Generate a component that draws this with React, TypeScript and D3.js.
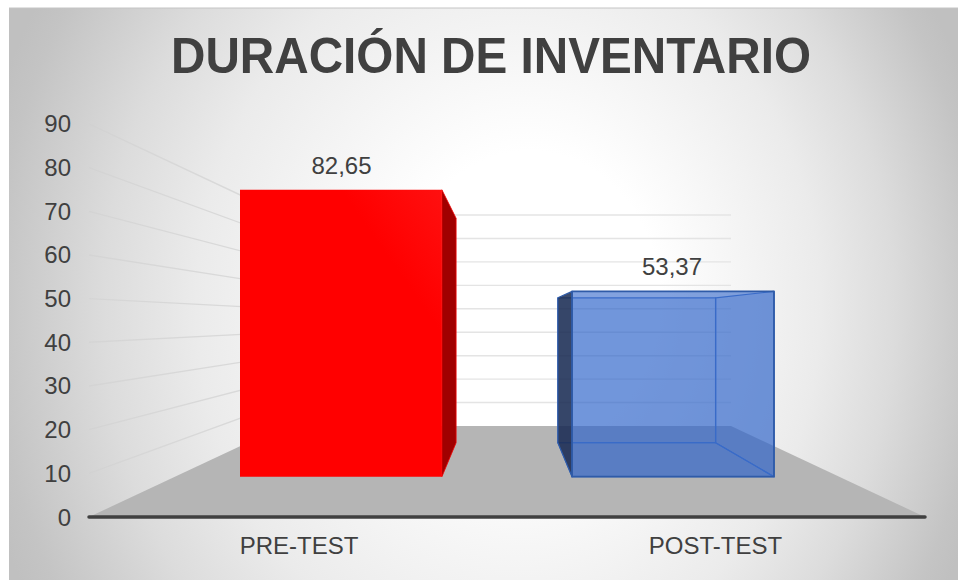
import React from "react";
import * as d3 from "d3";

const categories = ["PRE-TEST", "POST-TEST"];
const values = [82.65, 53.37];
const valueLabels = ["82,65", "53,37"];
const yTicks = [0, 10, 20, 30, 40, 50, 60, 70, 80, 90];
const titleText = "DURACIÓN DE INVENTARIO";

const W = 958, H = 580;
const font = "'Liberation Sans', Arial, sans-serif";
const textColor = "#404040";

// Depth projection: t = 0 on the front edge, t = 1 on the back wall
const baseY = d3.scaleLinear().domain([0, 1]).range([517, 426]);
const unitPx = d3.scaleLinear().domain([0, 1]).range([4.367, 2.344]);
const leftX = d3.scaleLinear().domain([0, 1]).range([89, 283]);
const rightX = d3.scaleLinear().domain([0, 1]).range([925, 731]);
const band = d3.scaleBand<string>().domain(categories).range([0, 1]).paddingInner(0.392).paddingOuter(0.196);
const T_FRONT = 0.443, T_BACK = 0.817;

function project(u: number, v: number, t: number): [number, number] {
  const x = d3.interpolateNumber(leftX(t), rightX(t))(u);
  return [x, baseY(t) - unitPx(t) * v];
}
const poly = (pts: [number, number][]) => pts.map((p) => p.map((n) => n.toFixed(1)).join(",")).join(" ");

export default function App() {
  return (
    <svg width={W} height={H} viewBox={`0 0 ${W} ${H}`} style={{ position: "fixed", left: 0, top: 0, display: "block" }}>
      <defs>
        <radialGradient id="bg" gradientUnits="userSpaceOnUse" cx={0} cy={0} r={1} fx={0.118} fy={-0.02}
          gradientTransform="translate(484 310) scale(520 600)">
          <stop offset="0" stopColor="#ffffff" />
          <stop offset="0.25" stopColor="#ffffff" />
          <stop offset="0.6" stopColor="#ebebeb" />
          <stop offset="0.76" stopColor="#dcdcdc" />
          <stop offset="0.95" stopColor="#c4c4c4" />
          <stop offset="1" stopColor="#c0c0c0" />
        </radialGradient>
        <linearGradient id="redFront" x1="0" y1="1" x2="1" y2="0">
          <stop offset="0" stopColor="#ff0000" />
          <stop offset="0.75" stopColor="#ff0000" />
          <stop offset="1" stopColor="#ff1010" />
        </linearGradient>
        <linearGradient id="leftFade" gradientUnits="userSpaceOnUse" x1={89} y1={0} x2={240} y2={0}>
          <stop offset="0" stopColor="#cfcfcf" stopOpacity="0.5" />
          <stop offset="0.3" stopColor="#d4d4d4" stopOpacity="0.8" />
          <stop offset="1" stopColor="#d9d9d9" stopOpacity="1" />
        </linearGradient>
      </defs>
      <rect width={W} height={H} fill="#ffffff" />
      <rect x={9} y={8} width={W - 9} height={H - 8} fill="url(#bg)" />
      <line x1={9} x2={W} y1={8} y2={8} stroke="#c4c4c4" strokeWidth={1} />

      {/* floor */}
      <polygon
        points={poly([project(0, 0, 0), project(0, 0, 1), project(1, 0, 1), project(1, 0, 0)])}
        fill="#b5b5b5"
      />

      {/* gridlines on the side and back walls */}
      {yTicks.slice(1).map((v) => {
        const a = project(0, v, 0), b = project(0, v, 1), c = project(1, v, 1);
        return (
          <g key={v}>
            <line x1={a[0]} y1={a[1]} x2={b[0]} y2={b[1]} stroke="url(#leftFade)" strokeWidth={1.4} />
            <line x1={b[0]} y1={b[1]} x2={c[0]} y2={c[1]} stroke="#e4e4e4" strokeWidth={1.4} />
          </g>
        );
      })}

      {/* base axis */}
      <line x1={89} x2={925} y1={517} y2={517} stroke="#404040" strokeWidth={3.5} strokeLinecap="round" />

      {/* bars */}
      {categories.map((c, i) => {
        const u0 = band(c)!;
        const u1 = u0 + band.bandwidth();
        const v = values[i];
        const f = (u: number, val: number) => project(u, val, T_FRONT);
        const b = (u: number, val: number) => project(u, val, T_BACK);
        if (i === 0) {
          return (
            <g key={c}>
              <polygon points={poly([f(u1, 0), b(u1, 0), b(u1, v), f(u1, v)])} fill="#a00000" stroke="#f00000" strokeWidth={0.8} />
              <polygon points={poly([f(u0, 0), f(u1, 0), f(u1, v), f(u0, v)])} fill="url(#redFront)" />
            </g>
          );
        }
        const blue = "#2e64c9";
        const stroke = "#2f5ba8";
        return (
          <g key={c} strokeLinejoin="round">
            <polygon points={poly([b(u0, 0), b(u1, 0), b(u1, v), b(u0, v)])} fill={blue} fillOpacity={0.2} stroke="#4a76c6" strokeWidth={1.3} />
            <polygon points={poly([f(u0, 0), f(u1, 0), b(u1, 0), b(u0, 0)])} fill={blue} fillOpacity={0.2} stroke="#4a76c6" strokeWidth={1.2} />
            <polygon points={poly([f(u0, 0), b(u0, 0), b(u0, v), f(u0, v)])} fill="#1a2a50" fillOpacity={0.85} stroke={stroke} strokeWidth={1.2} />
            <polygon points={poly([f(u1, 0), b(u1, 0), b(u1, v), f(u1, v)])} fill={blue} fillOpacity={0.2} stroke="#4a76c6" strokeWidth={1.2} />
            <polygon points={poly([f(u0, 0), f(u1, 0), f(u1, v), f(u0, v)])} fill={blue} fillOpacity={0.6} stroke={stroke} strokeWidth={1.8} />
          </g>
        );
      })}

      {/* title */}
      <text x={491} y={73} textAnchor="middle" textLength={640} lengthAdjust="spacingAndGlyphs" fontFamily={font} fontWeight="bold" fontSize={50} fill={textColor}>{titleText}</text>

      {/* y axis labels */}
      {yTicks.map((v) => {
        const p = project(0, v, 0);
        return (
          <text key={v} x={71} y={p[1] + 8.5} textAnchor="end" fontFamily={font} fontSize={24} fill={textColor}>{v}</text>
        );
      })}

      {/* category labels */}
      {categories.map((c, i) => (
        <text key={c} x={i === 0 ? 299 : 715.5} y={553.5} textAnchor="middle" fontFamily={font} fontSize={24} fill={textColor}>{c}</text>
      ))}

      {/* value labels */}
      {valueLabels.map((l, i) => (
        <text key={l} x={i === 0 ? 341.5 : 672} y={i === 0 ? 173.5 : 275} textAnchor="middle" fontFamily={font} fontSize={24} fill={textColor}>{l}</text>
      ))}
    </svg>
  );
}
